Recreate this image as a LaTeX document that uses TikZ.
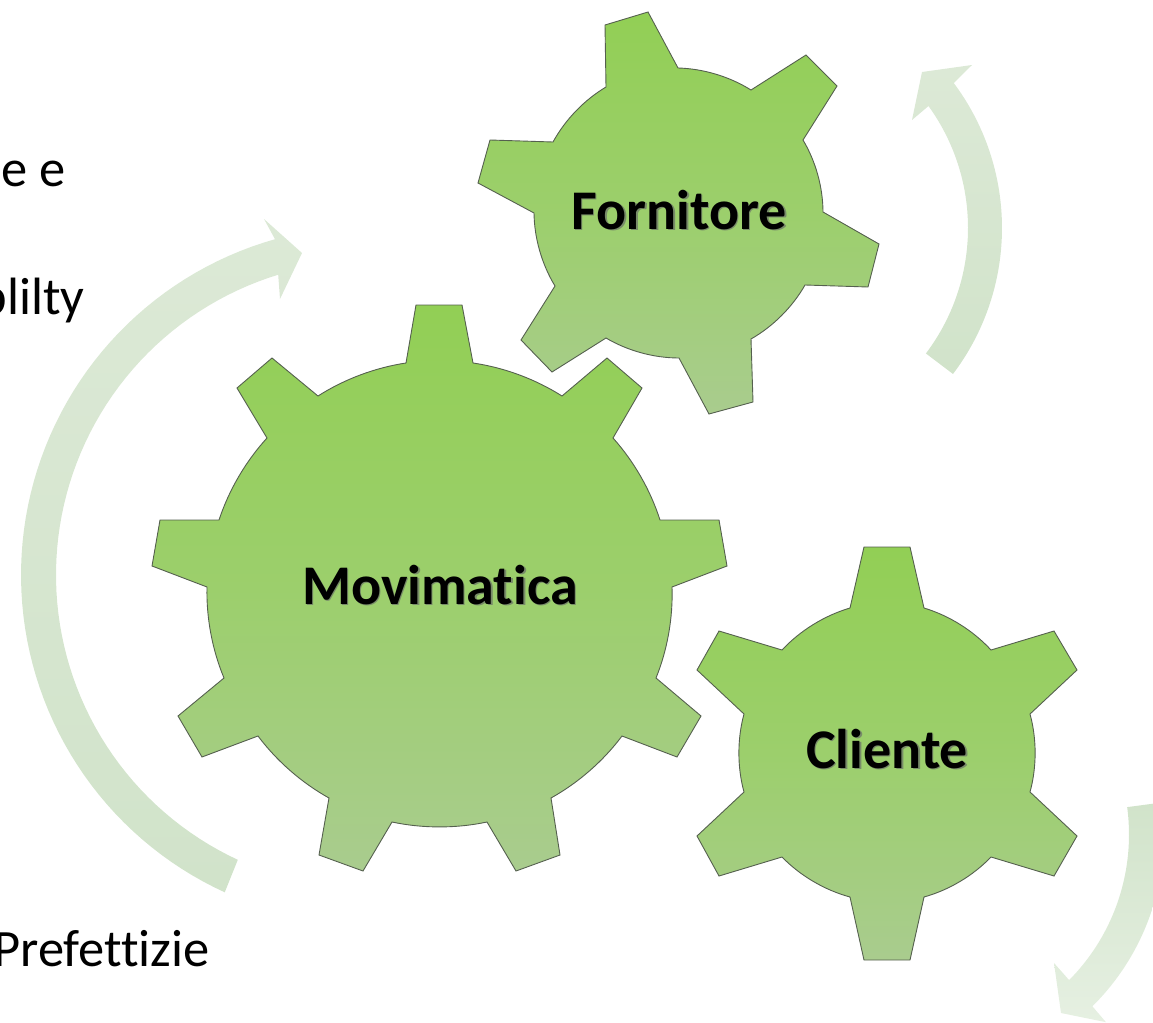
\documentclass[tikz,border=0pt]{standalone}
\usepackage{fontspec}
\setmainfont[RawFeature={-liga;-clig;-dlig}]{Carlito}
\definecolor{gearA}{HTML}{92CF55}
\definecolor{gearM}{HTML}{9CCF6C}
\definecolor{gearB}{HTML}{A9CC8E}
\definecolor{gearEdge}{HTML}{55604F}
\definecolor{shadowc}{HTML}{3E5A28}
\definecolor{flowA}{HTML}{DCE9D6}
\definecolor{flowB}{HTML}{D1E3CA}
\definecolor{flowC}{HTML}{E6F0E2}
\tikzset{
  gearshape/.style={draw=gearEdge,line width=0.9pt,line join=miter,top color=gearA,bottom color=gearB,middle color=gearM},
  flow/.style={draw=none},
  gearlabel/.style={font=\bfseries\fontsize{56}{64}\selectfont,inner sep=0pt,anchor=base,text=black},
  sidelabel/.style={font=\fontsize{52.5}{60}\selectfont,inner sep=0pt,anchor=base east,text=black},
  ma/.style={bend left=12,looseness=0.85},
  mb/.style={bend left=15.3,looseness=0.85},
}
\newcommand{\shadowed}[1]{\leavevmode\rlap{\raisebox{-1.6pt}{\hspace{1.6pt}\textcolor{shadowc!70}{#1}}}#1}
\begin{document}
\begin{tikzpicture}[x=1pt,y=-1pt]
\useasboundingbox (0,0) rectangle (1153,1022);
\clip (0,0) rectangle (1153,1022);
% pale circular arrows
\shade[flow,top color=flowA,bottom color=flowB]
  plot[domain=114.6:254.2,samples=70] ({370+349*cos(\x)},{575+349*sin(\x)})
  -- (264,219) -- (302,253) -- (280,299)
  -- plot[domain=253:114.9,samples=70] ({370+314*cos(\x)},{575+314*sin(\x)}) -- cycle;
\shade[flow,top color=flowA,bottom color=flowB]
  plot[domain=37.1:-36.8,samples=50] ({760+242*cos(\x)},{228+242*sin(\x)})
  -- (972,65) -- (922,72) -- (912,120)
  -- plot[domain=-35.9:37.1,samples=50] ({760+208*cos(\x)},{228+208*sin(\x)}) -- cycle;
\shade[flow,top color=flowB,bottom color=flowC]
  plot[domain=-7.6:44.7,samples=40] ({922+207*cos(\x)},{834.5+207*sin(\x)})
  -- (1054,963) -- (1061,1013) -- (1106,1022.2) -- (1093,1007)
  -- plot[domain=45.2:-7.6,samples=40] ({922+242*cos(\x)},{834.5+242*sin(\x)}) -- cycle;
% Fornitore gear
\path[gearshape]
  (605,25) -- (648,12) -- (678,68) to[mb] (751,90) -- (806,55) -- (837,86) -- (803,140)
  to[mb] (823,212) -- (879,244) -- (868,287) -- (805,285)
  to[mb] (751,339) -- (753,402) -- (709,414) -- (679,358)
  to[mb] (606,338) -- (552,372) -- (521,340) -- (555,286)
  to[mb] (534,213) -- (478,183) -- (490,140) -- (553,142)
  to[mb] (606,87) -- cycle;
% Movimatica gear
\path[gearshape]
  (416,305) -- (462,305) -- (473,363) to[ma] (562,396) -- (607,358) -- (642,388) -- (613,438)
  to[ma] (660,520) -- (719,520) -- (727,566) -- (672,587)
  to[ma] (656,678) -- (701,716) -- (677,757) -- (622,736)
  to[ma] (551,798) -- (560,855) -- (516,871) -- (487,822)
  to[ma] (392,822) -- (363,871) -- (319,855) -- (329,798)
  to[ma] (258,736) -- (202,757) -- (178,716) -- (224,678)
  to[ma] (207,587) -- (152,566) -- (160,520) -- (219,520)
  to[ma] (267,438) -- (237,388) -- (272,358) -- (318,396)
  to[ma] (406,363) -- cycle;
% Cliente gear
\path[gearshape]
  (864,547) -- (910,547) -- (924,608) to[mb] (991,650) -- (1054,631) -- (1077,670) -- (1030,714)
  to[mb] (1030,792) -- (1077,836) -- (1054,876) -- (991,857)
  to[mb] (924,897) -- (910,960) -- (864,960) -- (850,897)
  to[mb] (782,857) -- (719,876) -- (697,836) -- (744,792)
  to[mb] (744,714) -- (697,670) -- (719,631) -- (782,650)
  to[mb] (850,608) -- cycle;
% labels
\node[gearlabel] (movimatica) at (440,604) {\shadowed{Movimatica}};
\node[gearlabel] (fornitore) at (679,229) {\shadowed{Fornitore}};
\node[gearlabel] (cliente) at (887,768) {\shadowed{Cliente}};
\node[sidelabel] (ee) at (66,186) {e e};
\node[sidelabel] (bilty) at (85,314) {blilty};
\node[sidelabel] (pref) at (210,966) {Prefettizie};
\end{tikzpicture}
\end{document}
